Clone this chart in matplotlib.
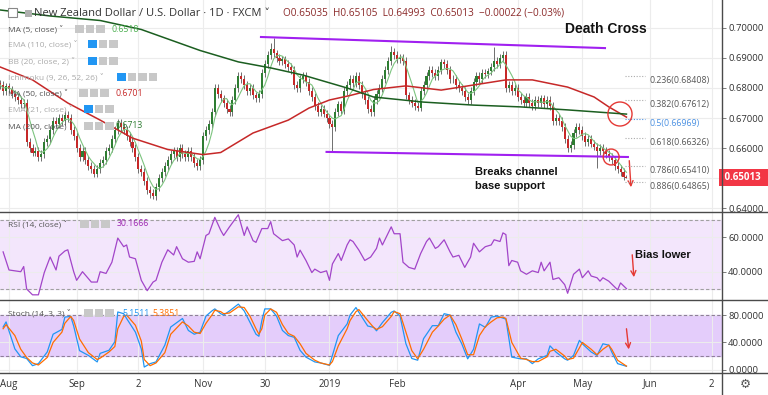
# NZD/USD daily chart - death cross + channel break

import numpy as np
import pandas as pd
import matplotlib
matplotlib.use('Agg')
import matplotlib.pyplot as plt
from matplotlib.patches import Ellipse, Rectangle
from matplotlib.lines import Line2D

plt.rcParams['font.family'] = ['Open Sans', 'DejaVu Sans']

# ---- data ----
# daily closes 27 Jul 2018 -> 22 May 2019 (day index -3 .. 210, 0 = 1 Aug 2018)
closes = [
    0.6810, 0.6790, 0.6805, 0.6795, 0.6780, 0.6770, 0.6760, 0.6745, 0.6750, 0.6620,
    0.6600, 0.6585, 0.6590, 0.6570, 0.6580, 0.6620, 0.6630, 0.6660, 0.6690, 0.6680,
    0.6700, 0.6690, 0.6710, 0.6700, 0.6660, 0.6640, 0.6600, 0.6570, 0.6590, 0.6560,
    0.6540, 0.6530, 0.6515, 0.6530, 0.6550, 0.6560, 0.6590, 0.6600, 0.6630, 0.6660,
    0.6685, 0.6670, 0.6660, 0.6640, 0.6620, 0.6600, 0.6570, 0.6530, 0.6520, 0.6490,
    0.6460, 0.6450, 0.6440, 0.6470, 0.6500, 0.6520, 0.6540, 0.6560, 0.6580, 0.6590,
    0.6570, 0.6600, 0.6580, 0.6570, 0.6590, 0.6570, 0.6550, 0.6540, 0.6560, 0.6640,
    0.6660, 0.6680, 0.6720, 0.6800, 0.6780, 0.6765, 0.6750, 0.6730, 0.6720, 0.6760,
    0.6800, 0.6840, 0.6830, 0.6810, 0.6790, 0.6800, 0.6775, 0.6765, 0.6780, 0.6850,
    0.6880, 0.6910, 0.6930, 0.6915, 0.6900, 0.6890, 0.6895, 0.6880, 0.6870, 0.6860,
    0.6810, 0.6800, 0.6830, 0.6840, 0.6820, 0.6790, 0.6770, 0.6740, 0.6720, 0.6730,
    0.6715, 0.6700, 0.6680, 0.6670, 0.6720, 0.6745, 0.6725, 0.6790, 0.6810, 0.6830,
    0.6815, 0.6840, 0.6810, 0.6780, 0.6760, 0.6730, 0.6720, 0.6760, 0.6780, 0.6800,
    0.6830, 0.6860, 0.6890, 0.6920, 0.6910, 0.6895, 0.6900, 0.6890, 0.6775, 0.6760,
    0.6750, 0.6740, 0.6735, 0.6790, 0.6810, 0.6840, 0.6860, 0.6850, 0.6840, 0.6860,
    0.6885, 0.6880, 0.6860, 0.6830, 0.6830, 0.6810, 0.6800, 0.6790, 0.6770, 0.6760,
    0.6790, 0.6820, 0.6840, 0.6830, 0.6850, 0.6845, 0.6855, 0.6870, 0.6890, 0.6880,
    0.6900, 0.6910, 0.6800, 0.6810, 0.6790, 0.6800, 0.6770, 0.6760, 0.6750, 0.6770,
    0.6750, 0.6740, 0.6760, 0.6750, 0.6765, 0.6745, 0.6760, 0.6740, 0.6690, 0.6700,
    0.6690, 0.6670, 0.6630, 0.6600, 0.6610, 0.6650, 0.6670, 0.6660, 0.6640, 0.6620,
    0.6630, 0.6615, 0.6605, 0.6590, 0.6600, 0.6590, 0.6580, 0.6570, 0.6560, 0.6540,
    0.6530, 0.6520, 0.6504, 0.65013,
]
first_open = 0.6815
last_ohlc = (0.65035, 0.65105, 0.64993, 0.65013)
wick = 0.0012
long_highs = {89: 0.6950, 90: 0.6967, 130: 0.6940, 165: 0.6938}
long_lows = {29: 0.6505, 48: 0.6433, 49: 0.6430, 110: 0.6587, 200: 0.6533}

# MA(200) and MA(50) read at sample days
ma200_day = [-3, 14, 31, 45, 55, 65, 78, 89, 100, 115, 124, 141, 158, 174, 190, 210]
ma200_val = [0.7060, 0.7040, 0.7025, 0.6995, 0.6960, 0.6925, 0.6887, 0.6867,
             0.6843, 0.6800, 0.6770, 0.6753, 0.6743, 0.6737, 0.6727, 0.6713]
ma50_day = [-3, 8, 20, 31, 42, 54, 66, 72, 83, 95, 102, 109, 116, 124, 135,
            147, 158, 169, 178, 190, 199, 204, 210]
ma50_val = [0.6870, 0.6827, 0.6750, 0.6693, 0.6633, 0.6595, 0.6578, 0.6585,
            0.6650, 0.6693, 0.6733, 0.6760, 0.6775, 0.6795, 0.6807, 0.6793,
            0.6810, 0.6827, 0.6827, 0.6803, 0.6770, 0.6737, 0.6703]

rsi_day = [-2, 0, 4, 5, 6, 8, 10, 12, 14, 16, 17, 19, 20, 22, 23, 25, 28, 30, 31, 33,
           35, 37, 39, 40, 41, 43, 45, 47, 49, 50, 52, 54, 56, 57, 59, 61, 63, 64, 65, 67,
           68, 70, 72, 73, 75, 78, 80, 81, 83, 84, 86, 88, 89, 90, 93, 95, 97, 98, 99, 101,
           103, 104, 106, 108, 109, 110, 112, 113, 115, 116, 117, 119, 121, 123, 125, 126,
           127, 130, 131, 133, 134, 136, 138, 140, 142, 143, 145, 146, 148, 150, 151, 153,
           155, 157, 158, 160, 162, 164, 165, 167, 168, 169, 170, 171, 173, 174, 176, 178,
           180, 181, 182, 184, 185, 187, 189, 190, 192, 194, 195, 197, 198, 200, 201, 202,
           204, 207, 208, 210]
rsi_val = [51.5, 41, 40, 43, 30, 26.6, 26.6, 39.5, 48.5, 41, 49, 52, 52.7, 40, 35, 40, 34, 34,
           40, 39, 45.5, 59.5, 54.5, 55.5, 48.5, 47.5, 35, 29, 34, 35, 45.5, 52.7, 49.7, 54.5,
           47.5, 45.5, 46, 51.5, 47.5, 61, 62, 71.5, 64, 61, 66, 73, 61, 66, 58, 57, 65, 65,
           69, 62, 58, 59, 55.5, 48.5, 52.5, 46.5, 39.5, 41.5, 39.5, 40.5, 35, 44.5, 50.5,
           46.5, 55.5, 58.5, 57.5, 52.5, 46.5, 48.5, 53.5, 59.5, 55.5, 66, 62, 62, 45.5,
           42.5, 41.5, 50.5, 57.5, 59.5, 53.5, 54.5, 58.5, 51.5, 48.5, 49.5, 42.5, 48.5,
           56.5, 51.5, 54.5, 55.5, 58.5, 57.5, 62.5, 61.5, 43.5, 46.5, 45.5, 40.5, 38.5,
           40.5, 39.5, 45.5, 40.5, 45.5, 35.5, 36.5, 32.5, 27.5, 38.5, 41.5, 36.5, 40.5,
           37.5, 36.5, 34.5, 36.5, 34.5, 29.5, 33.5, 30.17]

stoch_day = [-2, -1, 2, 4, 6, 8, 10, 13, 15, 18, 19, 21, 22, 24, 27, 30, 31, 34, 36, 37,
             39, 40, 43, 45, 46, 48, 50, 53, 55, 59, 61, 63, 65, 67, 69, 70, 72, 73, 75, 78,
             80, 82, 84, 85, 86, 87, 89, 91, 93, 95, 97, 99, 101, 104, 106, 109, 110, 112,
             115, 116, 118, 119, 122, 124, 125, 127, 130, 131, 133, 135, 137, 139, 141, 144,
             146, 148, 150, 152, 154, 156, 158, 160, 162, 164, 166, 168, 169, 171, 174, 176,
             178, 180, 183, 184, 186, 189, 190, 192, 194, 195, 198, 200, 202, 204, 205, 207,
             210]
stoch_k = [62.5, 70, 30.5, 19, 16.5, 6, 9, 26, 52, 59, 77, 78, 64, 28, 21, 11.5, 24, 28.5,
           41, 84.5, 82, 75, 55, 30.5, 4, 9, 11.5, 36, 62.5, 75, 57.5, 52, 55, 78.5, 86, 89,
           82, 80, 86, 96, 86, 69, 52, 49, 72, 89, 89, 78.5, 57.5, 50, 47.5, 28.5, 18.5,
           11.5, 10, 6.5, 21, 50, 67, 80, 91, 84, 64, 62, 57, 69, 84, 86, 78.5, 38, 16.5, 14,
           45.5, 64.5, 64.5, 82, 80, 55, 38, 16, 30, 67, 62, 77, 78.5, 75.5, 74, 18.5, 16,
           16, 9, 16, 21, 35, 26, 16, 14, 21, 43, 38, 26, 21, 38, 36, 26, 9, 5.15]
stoch_d = [60, 66, 50, 30, 18, 10, 7, 18, 40, 55, 68, 78, 72, 45, 25, 15, 17, 26, 34, 60,
           78, 80, 65, 42, 15, 6, 10, 25, 52, 70, 64, 55, 53, 68, 80, 87, 85, 82, 83, 92, 91,
           78, 60, 52, 60, 80, 89, 84, 66, 53, 49, 38, 24, 14, 10, 7, 12, 35, 60, 72, 85, 88,
           72, 62, 59, 63, 78, 85, 82, 55, 28, 16, 30, 55, 64, 74, 80, 66, 45, 22, 22, 50,
           63, 70, 76, 77, 75, 40, 17, 15, 12, 12, 19, 27, 30, 20, 15, 17, 32, 40, 30, 22,
           30, 36, 30, 14, 5.39]

# annotations
channel_top = ([85.7, 202.7], [0.6970, 0.6933])
channel_base = ([108.0, 210.5], [0.6587, 0.6570])
fib_ratio = ['0.236', '0.382', '0.5', '0.618', '0.786', '0.886']
fib_price = [0.68408, 0.67612, 0.66969, 0.66326, 0.65410, 0.64865]
price_ticks = [0.64, 0.65, 0.66, 0.67, 0.68, 0.69, 0.70]
tick_dates = ['2018-08-01', '2018-09-03', '2018-10-02', '2018-11-01', '2018-11-30',
              '2019-01-01', '2019-02-01', '2019-04-01', '2019-05-01', '2019-06-03',
              '2019-07-02']
tick_labels = ['Aug', 'Sep', '2', 'Nov', '30', '2019', 'Feb', 'Apr', 'May', 'Jun', '2']

# ---- prep ----
closes = np.array(closes)
day = np.arange(len(closes)) - 3
opens = np.r_[first_open, closes[:-1]]
opens[-1] = last_ohlc[0]
highs = np.maximum(opens, closes) + wick
lows = np.minimum(opens, closes) - wick
for d, v in long_highs.items():
    highs[d + 3] = v
for d, v in long_lows.items():
    lows[d + 3] = v
highs[-1], lows[-1] = last_ohlc[1], last_ohlc[2]
ma5 = pd.Series(closes).rolling(5, min_periods=1).mean()

cal = pd.bdate_range('2018-07-27', '2019-07-10')
tick_pos = [cal.get_loc(pd.Timestamp(t)) - 3 for t in tick_dates]

W, H = 768, 395
fig = plt.figure(figsize=(W / 100, H / 100), dpi=100)
ax = fig.add_axes([0, 1 - 212 / H, 722 / W, 212 / H])
ax_rsi = fig.add_axes([0, 1 - 300 / H, 722 / W, 88 / H])
ax_st = fig.add_axes([0, 1 - 373 / H, 722 / W, 73 / H])

grid_c = '#ececec'
for a in (ax, ax_rsi, ax_st):
    a.set_xlim(-3.06, 242.5)
    for s in a.spines.values():
        s.set_visible(False)
    a.set_xticks(tick_pos)
    a.grid(True, color=grid_c, lw=0.8)
    a.set_axisbelow(True)
    a.yaxis.tick_right()
    a.tick_params(axis='y', length=3, width=0.6, color='#666', labelsize=6.8,
                  labelcolor='#333', pad=1.5)
for a in (ax, ax_rsi):
    a.tick_params(axis='x', length=0, labelbottom=False)
ax_st.set_xticklabels(tick_labels)
ax_st.tick_params(axis='x', length=0, labelsize=7, labelcolor='#333', pad=4)

# ---- price pane ----
ax.set_ylim(0.63867, 0.70933)
ax.set_yticks(price_ticks)
# the 0.65 label sits under the last-price tag
ax.set_yticklabels(['' if p == 0.65 else '%.5f' % p for p in price_ticks])

up = closes >= opens
ax.vlines(day, lows, highs, color='#6e6e6e', lw=0.7, zorder=2)
ax.bar(day[up], (closes - opens)[up], bottom=opens[up], width=0.7, color='#2e7d32', zorder=3)
ax.bar(day[~up], (closes - opens)[~up], bottom=opens[~up], width=0.7, color='#c62828', zorder=3)
ax.plot(day, ma5, color='#7cc47f', lw=0.8, zorder=4)
ax.plot(ma50_day, ma50_val, color='#c62828', lw=1.1, zorder=4)
ax.plot(ma200_day, ma200_val, color='#1b5e20', lw=1.1, zorder=4)

ax.plot(*channel_top, color='#a020f0', lw=1.5, zorder=5)
ax.plot(*channel_base, color='#a020f0', lw=1.5, zorder=5)

for r, p in zip(fib_ratio, fib_price):
    col = '#4a90e2' if r == '0.5' else '#555555'
    ax.plot([209.5, 216.3], [p, p], ls=(0, (1, 1.5)), color='#4a90e2' if r == '0.5' else '#aaaaaa',
            lw=0.8, zorder=4)
    ax.text(218, p, '%s(%.5f)' % (r, p), fontsize=6.3, color=col, va='top', ha='left')

ax.add_patch(Ellipse((207.8, 0.67133), 8.2, 0.0080, fill=False, ec='#e53935', lw=1, zorder=6))
ax.add_patch(Ellipse((204.8, 0.6570), 5.4, 0.0053, fill=False, ec='#e53935', lw=1, zorder=6))
ax.annotate('', xy=(211.6, 0.6460), xytext=(210.9, 0.6567),
            arrowprops=dict(arrowstyle='->', color='#e53935', lw=1, mutation_scale=9))

ax.text(189, 0.6997, 'Death Cross', fontsize=10, fontweight='bold', family='Liberation Sans',
        va='center', ha='left', color='#111')
ax.text(158.5, 0.6520, 'Breaks channel', fontsize=8, fontweight='bold',
        family='Liberation Sans', va='center', color='#111')
ax.text(158.5, 0.6473, 'base support', fontsize=8, fontweight='bold',
        family='Liberation Sans', va='center', color='#111')

ax.text(1.0, last_ohlc[3], ' %.5f  ' % last_ohlc[3], transform=ax.get_yaxis_transform(),
        fontsize=7, color='white', fontweight='bold', va='center', ha='left', zorder=10,
        bbox=dict(boxstyle='square,pad=0.3', fc='#f23645', ec='none'), clip_on=False)

# ---- RSI pane ----
ax_rsi.set_ylim(23.6, 74.6)
ax_rsi.set_yticks([40, 60])
ax_rsi.set_yticklabels(['40.0000', '60.0000'])
ax_rsi.axhspan(30, 70, color='#f3e6fc', zorder=0)
for lvl in (30, 70):
    ax_rsi.axhline(lvl, color='#a0a0a0', lw=0.8, ls=(0, (3, 2)), zorder=1)
ax_rsi.plot(rsi_day, rsi_val, color='#a245c9', lw=0.9, zorder=3)
ax_rsi.text(213, 49.7, 'Bias lower', fontsize=8, fontweight='bold', family='Liberation Sans',
            va='center', color='#111')
ax_rsi.annotate('', xy=(212.6, 35.2), xytext=(211.9, 51.4),
                arrowprops=dict(arrowstyle='->', color='#e53935', lw=1, mutation_scale=9))

# ---- Stoch pane ----
ax_st.set_ylim(-4.7, 102)
ax_st.set_yticks([0, 40, 80])
ax_st.set_yticklabels(['0.0000', '40.0000', '80.0000'])
ax_st.axhspan(20, 80, color='#e4cdfb', zorder=0)
for lvl in (20, 80):
    ax_st.axhline(lvl, color='#8e7f99', lw=0.8, ls=(0, (3, 2)), zorder=1)
ax_st.plot(stoch_day, stoch_k, color='#2196f3', lw=0.9, zorder=3)
ax_st.plot(stoch_day, stoch_d, color='#ff6d00', lw=0.9, zorder=3)
ax_st.annotate('', xy=(210.9, 25.8), xytext=(209.9, 64),
               arrowprops=dict(arrowstyle='->', color='#e53935', lw=1, mutation_scale=9))


# ---- chrome: separators, legend, header ----
def fx(x, y):
    return x / W, 1 - y / H


line_c = '#4a4a4a'
for yy in (212, 300, 373):
    fig.add_artist(Line2D([0, 1], [1 - yy / H] * 2, color=line_c, lw=1))
fig.add_artist(Line2D([722 / W] * 2, [0, 1], color=line_c, lw=1))
fig.text(*fx(745, 384), '\u2699', fontsize=9, color='#555', ha='center', va='center',
         family='DejaVu Sans')


def boxes(x0, y, n, first_blue=False):
    for k in range(n):
        c = '#2196f3' if (k == 0 and first_blue) else '#c8c8c8'
        fig.add_artist(Rectangle(fx(x0 + k * 10.5, y + 4), 8.5 / W, 8.5 / H, fc=c, ec='none'))


fig.add_artist(Rectangle(fx(8, 17), 9 / W, 9 / H, fc='white', ec='#888', lw=0.8))
fig.add_artist(Rectangle(fx(25, 17), 7 / W, 7 / H, fc='#b0b0b0', ec='none'))
fig.text(*fx(34, 13), 'New Zealand Dollar / U.S. Dollar \u00b7 1D \u00b7 FXCM \u02c5', fontsize=8,
         color='#333', va='center', family=['Open Sans', 'DejaVu Sans'])
fig.text(*fx(283, 13), 'O0.65035  H0.65105  L0.64993  C0.65013  \u22120.00022 (\u22120.03%)',
         fontsize=7.2, color='#8b2a2a', va='center')

legend_rows = [
    ('MA (5, close) \u02c5', 29, '#555', 75, 3, False, '0.6518', '#4caf50', 112),
    ('EMA (110, close) \u02c5', 44, '#aaa', 88, 3, True, '', '', 0),
    ('BB (20, close, 2) \u02c5', 61, '#aaa', 88, 3, True, '', '', 0),
    ('Ichimoku (9, 26, 52, 26) \u02c5', 77, '#aaa', 117, 4, True, '', '', 0),
    ('MA (50, close) \u02c5', 93, '#555', 79, 3, False, '0.6701', '#c62828', 116),
    ('EMA (21, close) \u02c5', 109, '#aaa', 84, 3, True, '', '', 0),
    ('MA (200, close) \u02c5', 126, '#555', 84, 3, False, '0.6713', '#2e7d32', 115),
    ('RSI (14, close) \u02c5', 224, '#555', 80, 3, False, '30.1666', '#9c27b0', 117),
    ('Stoch (14, 3, 3) \u02c5', 313, '#555', 84, 3, False, '', '', 0),
]
for label, y, col, bx, nb, blue, val, vcol, vx in legend_rows:
    fig.text(*fx(8, y), label, fontsize=6, color=col, va='center')
    boxes(bx, y, nb, blue)
    if val:
        fig.text(*fx(vx, y), val, fontsize=6.3, color=vcol, va='center')
fig.text(*fx(122, 313), '5.1511', fontsize=6.3, color='#2196f3', va='center')
fig.text(*fx(152, 313), '5.3851', fontsize=6.3, color='#ff6d00', va='center')

fig.savefig('out.png', dpi=100)
